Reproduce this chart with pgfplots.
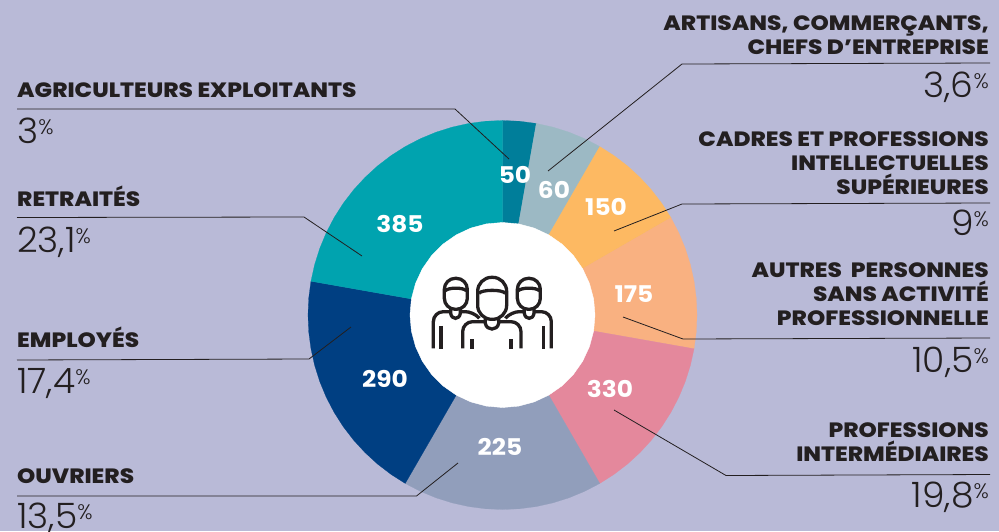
\documentclass[border=0pt]{standalone}
\usepackage{pgfplots}
\pgfplotsset{compat=1.18}
\usepackage{fontspec}
\setmainfont{Poppins}
\newfontfamily\lightf{Poppins Light}[FakeStretch=1.03]
\newfontfamily\lightp{Poppins Light}
\newfontfamily\boldf{Poppins ExtraBold}[FakeStretch=1.12]
\newfontfamily\valf{Poppins Bold}[FakeStretch=1.08]
\definecolor{bg}{HTML}{B9BAD7}
\definecolor{ink}{HTML}{231F20}
\definecolor{cA}{HTML}{007E9A}
\definecolor{cB}{HTML}{9CB9C4}
\definecolor{cC}{HTML}{FDB962}
\definecolor{cD}{HTML}{F9B181}
\definecolor{cE}{HTML}{E4889C}
\definecolor{cF}{HTML}{919EBB}
\definecolor{cG}{HTML}{003F82}
\definecolor{cH}{HTML}{00A3AF}
\newcommand\lab[1]{{\boldf\fontsize{20.7}{24}\selectfont\color{ink}#1}}
\newcommand\pct[1]{{\lightf\fontsize{35}{35}\selectfont\color{ink}#1\raisebox{8.5pt}{\lightp\fontsize{21}{21}\selectfont\%}}}
\newcommand\valnum[1]{{\valf\fontsize{23}{23}\selectfont\color{white}#1}}
\newcommand\sideperson{%
\draw[rounded corners=11pt] (103,85) rectangle (172,178);
\draw (106,122) .. controls (115,112) and (160,112) .. (169,122);
\draw (122,173) -- (122,190) .. controls (125,210) and (148,210) .. (151,190) -- (151,173);
\draw[rounded corners=10pt] (70,295) -- (70,185) -- (122,185);
\draw[rounded corners=8pt] (151,185) -- (190,185) -- (208,205);
\draw (93,228) -- (93,297);
}
\pgfplotsset{full/.style={at={(0,0)},anchor=south west,scale only axis,width=999pt,height=531pt,hide axis,clip=false}}
\begin{document}
\begin{tikzpicture}
\useasboundingbox (0,0) rectangle (999pt,531pt);
\begin{axis}[full,xmin=-502.5,xmax=496.5,ymin=-216,ymax=315]
\fill[bg] (rel axis cs:0,0) rectangle (rel axis cs:1,1);
% wedges: (polar angle, radius); clockwise from the top
\addplot[fill=cA,draw=cA,line width=.2pt,data cs=polar] coordinates {(0,0)(90,194.5)(85,194.5)(80,194.5)} --cycle;
\addplot[fill=cB,draw=cB,line width=.2pt,data cs=polar] coordinates {(0,0)(80,194.5)(75,194.5)(70,194.5)(65,194.5)(60,194.5)} --cycle;
\addplot[fill=cC,draw=cC,line width=.2pt,data cs=polar] coordinates {(0,0)(60,194.5)(55,194.5)(50,194.5)(45,194.5)(40,194.5)(35,194.5)(30,194.5)} --cycle;
\addplot[fill=cD,draw=cD,line width=.2pt,data cs=polar] coordinates {(0,0)(30,194.5)(25,194.5)(20,194.5)(15,194.5)(10,194.5)(5,194.5)(0,194.5)(-5,194.5)(-10,194.5)} --cycle;
\addplot[fill=cE,draw=cE,line width=.2pt,data cs=polar] coordinates {(0,0)(-10,194.5)(-15,194.5)(-20,194.5)(-25,194.5)(-30,194.5)(-35,194.5)(-40,194.5)(-45,194.5)(-50,194.5)(-55,194.5)(-60,194.5)} --cycle;
\addplot[fill=cF,draw=cF,line width=.2pt,data cs=polar] coordinates {(0,0)(-60,194.5)(-65,194.5)(-70,194.5)(-75,194.5)(-80,194.5)(-85,194.5)(-90,194.5)(-95,194.5)(-100,194.5)(-105,194.5)(-110,194.5)(-115,194.5)(-120,194.5)} --cycle;
\addplot[fill=cG,draw=cG,line width=.2pt,data cs=polar] coordinates {(0,0)(-120,194.5)(-125,194.5)(-130,194.5)(-135,194.5)(-140,194.5)(-145,194.5)(-150,194.5)(-155,194.5)(-160,194.5)(-165,194.5)(-170,194.5)(-175,194.5)(-180,194.5)(-185,194.5)(-190,194.5)} --cycle;
\addplot[fill=cH,draw=cH,line width=.2pt,data cs=polar] coordinates {(0,0)(170,194.5)(165,194.5)(160,194.5)(155,194.5)(150,194.5)(145,194.5)(140,194.5)(135,194.5)(130,194.5)(125,194.5)(120,194.5)(115,194.5)(110,194.5)(105,194.5)(100,194.5)(95,194.5)(90,194.5)} --cycle;
\addplot[fill=white,draw=white,data cs=polar] coordinates {(0,92.5)(10,92.5)(20,92.5)(30,92.5)(40,92.5)(50,92.5)(60,92.5)(70,92.5)(80,92.5)(90,92.5)(100,92.5)(110,92.5)(120,92.5)(130,92.5)(140,92.5)(150,92.5)(160,92.5)(170,92.5)(180,92.5)(190,92.5)(200,92.5)(210,92.5)(220,92.5)(230,92.5)(240,92.5)(250,92.5)(260,92.5)(270,92.5)(280,92.5)(290,92.5)(300,92.5)(310,92.5)(320,92.5)(330,92.5)(340,92.5)(350,92.5)} --cycle;
\end{axis}
\begin{axis}[full,xmin=0,xmax=999,ymin=0,ymax=531,y dir=reverse]
% leader lines
\addplot[ink,line width=.8pt] coordinates {(17,109)(455,109)(509,159)};
\addplot[ink,line width=.8pt] coordinates {(990,63)(682,64)(548,171)};
\addplot[ink,line width=.8pt] coordinates {(990,203)(682,204)(614,231)};
\addplot[ink,line width=.8pt] coordinates {(990,338)(683,339)(623,317)};
\addplot[ink,line width=.8pt] coordinates {(990,474.5)(726,475.5)(614,410)};
\addplot[ink,line width=.8pt] coordinates {(17,496)(416.5,496)(458,463)};
\addplot[ink,line width=.8pt] coordinates {(17,360)(309,359)(351,327)};
\addplot[ink,line width=.8pt] coordinates {(17,217.5)(304,217)(362,256)};
% left labels
\node[anchor=base west,inner sep=0] at (axis cs:17,97) {\lab{AGRICULTEURS EXPLOITANTS}};
\node[anchor=base west,inner sep=0] at (axis cs:17,143) {\pct{3}};
\node[anchor=base west,inner sep=0] at (axis cs:17,206) {\lab{RETRAITÉS}};
\node[anchor=base west,inner sep=0] at (axis cs:17,252) {\pct{23,1}};
\node[anchor=base west,inner sep=0] at (axis cs:17,347) {\lab{EMPLOYÉS}};
\node[anchor=base west,inner sep=0] at (axis cs:17,393) {\pct{17,4}};
\node[anchor=base west,inner sep=0] at (axis cs:17,483) {\lab{OUVRIERS}};
\node[anchor=base west,inner sep=0] at (axis cs:17,528) {\pct{13,5}};
% right labels
\node[anchor=base east,inner sep=0] at (axis cs:989,30) {\lab{ARTISANS, COMMERÇANTS,}};
\node[anchor=base east,inner sep=0] at (axis cs:989,54) {\lab{CHEFS D’ENTREPRISE}};
\node[anchor=base east,inner sep=0] at (axis cs:989,97) {\pct{3,6}};
\node[anchor=base east,inner sep=0] at (axis cs:989,146) {\lab{CADRES ET PROFESSIONS}};
\node[anchor=base east,inner sep=0] at (axis cs:989,170) {\lab{INTELLECTUELLES}};
\node[anchor=base east,inner sep=0] at (axis cs:989,194) {\lab{SUPÉRIEURES}};
\node[anchor=base east,inner sep=0] at (axis cs:989,235) {\pct{9}};
\node[anchor=base east,inner sep=0] at (axis cs:989,277) {\lab{AUTRES\ \ PERSONNES}};
\node[anchor=base east,inner sep=0] at (axis cs:989,301) {\lab{SANS ACTIVITÉ}};
\node[anchor=base east,inner sep=0] at (axis cs:989,325) {\lab{PROFESSIONNELLE}};
\node[anchor=base east,inner sep=0] at (axis cs:989,372) {\pct{10,5}};
\node[anchor=base east,inner sep=0] at (axis cs:989,437) {\lab{PROFESSIONS}};
\node[anchor=base east,inner sep=0] at (axis cs:989,461) {\lab{INTERMÉDIAIRES}};
\node[anchor=base east,inner sep=0] at (axis cs:989,507) {\pct{19,8}};
% values on the slices
\node[anchor=base,inner sep=0] at (axis cs:515,183) {\valnum{50}};
\node[anchor=base,inner sep=0] at (axis cs:554,198) {\valnum{60}};
\node[anchor=base,inner sep=0] at (axis cs:606,215) {\valnum{150}};
\node[anchor=base,inner sep=0] at (axis cs:634,302) {\valnum{175}};
\node[anchor=base,inner sep=0] at (axis cs:610,397) {\valnum{330}};
\node[anchor=base,inner sep=0] at (axis cs:500,455) {\valnum{225}};
\node[anchor=base,inner sep=0] at (axis cs:385,387) {\valnum{290}};
\node[anchor=base,inner sep=0] at (axis cs:400,232) {\valnum{385}};
% people icon, in units of a 3x crop whose corner is at (410,250)
\begin{scope}[shift={(axis cs:410,250)},x=0.3333pt,y=-0.3333pt,ink,line width=3.3pt]
\draw[rounded corners=14pt] (203,82) rectangle (290,208);
\draw (207,130) .. controls (215,118) and (278,118) .. (286,130);
\draw (226,203) -- (226,220) .. controls (230,243) and (262,243) .. (266,220) -- (266,203);
\draw[rounded corners=10pt] (158,295) -- (158,215) -- (226,215);
\draw[rounded corners=10pt] (333,295) -- (333,215) -- (266,215);
\draw (186,268) -- (186,297);
\draw (303,268) -- (303,297);
\sideperson
\begin{scope}[xshift=164.67pt,xscale=-1]
\sideperson
\end{scope}
\end{scope}
\end{axis}
\end{tikzpicture}
\end{document}
